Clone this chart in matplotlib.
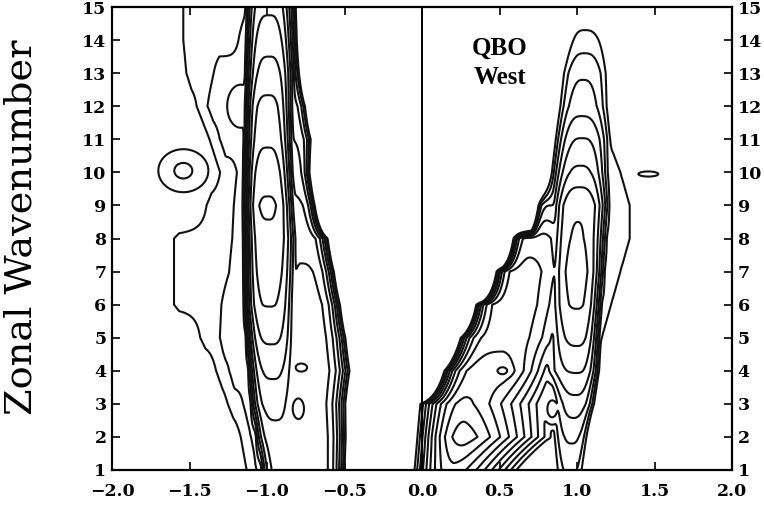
import numpy as np
import matplotlib
matplotlib.use("Agg")
import matplotlib.pyplot as plt

# ---------------- data (level units 1..12) ----------------
wavenumbers = np.arange(1, 16)
contour_levels = np.arange(1, 13)

# left-panel main ridge
ridgeA_center = [-0.90, -0.93, -0.95, -0.96, -0.97, -0.98, -0.98, -0.98, -0.99, -0.99, -0.99, -0.99, -0.98, -0.98, -0.98]
ridgeA_peak   = [7.3, 7.6, 8.4, 9.2, 10.2, 11.05, 11.5, 11.8, 12.15, 11.6, 10.8, 10.3, 9.4, 8.6, 7.8]
ridgeA_left   = [0.175, 0.18, 0.19, 0.19, 0.19, 0.19, 0.19, 0.19, 0.18, 0.18, 0.18, 0.18, 0.19, 0.19, 0.19]
ridgeA_right  = [0.22, 0.22, 0.21, 0.22, 0.22, 0.22, 0.22, 0.22, 0.21, 0.20, 0.20, 0.20, 0.20, 0.20, 0.20]

# left-panel shoulder (east side of the ridge)
shoulder_center = [-0.76, -0.77, -0.79, -0.78, -0.77, -0.76, -0.78, -0.80, -0.83, -0.86, -0.87, -0.88, -0.90, -0.90, -0.90]
shoulder_peak   = [7.8, 7.8, 7.8, 7.8, 7.6, 7.4, 7.1, 6.7, 6.2, 5.6, 5.0, 4.5, 4.0, 3.5, 3.0]
shoulder_right  = [0.30, 0.32, 0.34, 0.36, 0.32, 0.27, 0.25, 0.23, 0.17, 0.17, 0.20, 0.17, 0.15, 0.13, 0.12]

# left-panel low plateaus: west edge of level-1 and level-2 regions
plateau1_edge = [-1.10, -1.13, -1.25, -1.32, -1.43, -1.60, -1.60, -1.60, -1.39, -1.30, -1.34, -1.43, -1.52, -1.54, -1.54]
plateau2_edge = [-1.06, -1.10, -1.15, -1.24, -1.30, -1.29, -1.24, -1.22, -1.21, -1.19, -1.30, -1.38, -1.34, -1.18, -1.12]

# right-panel low-wavenumber block (wavenumbers 1-3)
block_center = [0.20, 0.27, 0.27]
block_peak   = [8.7, 10.6, 9.3]
block_left   = [0.31, 0.335, 0.337]
block_right  = [0.55, 0.65, 0.72]

# right-panel diagonal band (wavenumbers 4-9)
band_center = [0.52, 0.58, 0.62, 0.68, 0.75, 0.85]
band_peak   = [8.7, 7.5, 7.6, 7.4, 6.5, 4.0]
band_left   = [0.41, 0.373, 0.304, 0.226, 0.187, 0.13]
band_right  = [0.50, 0.55, 0.55, 0.50, 0.40, 0.20]
band_right_power = [1.5, 2, 2, 2, 2, 2]

# right-panel main ridge
ridgeR_center = [0.96, 0.97, 0.99, 1.00, 1.00, 1.00, 1.00, 1.00, 1.01, 1.02, 1.03, 1.03, 1.04, 1.05, 1.05]
ridgeR_peak   = [2.2, 3.2, 4.6, 6.1, 7.3, 8.1, 8.35, 8.07, 7.93, 6.24, 5.05, 3.55, 2.86, 1.43, 0.0]
ridgeR_left   = [0.18, 0.20, 0.22, 0.32, 0.26, 0.25, 0.24, 0.23, 0.23, 0.24, 0.24, 0.23, 0.23, 0.22, 0.22]
ridgeR_right  = [0.15, 0.16, 0.18, 0.19, 0.19, 0.20, 0.22, 0.24, 0.25, 0.25, 0.26, 0.27, 0.27, 0.27, 0.27]

# right-panel east shoulder (level-1 edge), wavenumbers 5-11
rshoulder_k    = [5, 6, 7, 8, 9, 10, 11]
rshoulder_edge = [1.16, 1.22, 1.28, 1.34, 1.34, 1.28, 1.20]

# isolated features: (x, wavenumber, peak, x-scale, k-scale)
islands_x    = [-1.54, -1.17, -0.78, -0.80, 0.52, 1.46, 0.84]
islands_k    = [10.05, 12.0, 4.1, 2.85, 4.0, 9.95, 2.85]
islands_peak = [2.15, 3.5, 8.3, 8.4, 9.2, 1.2, 3.4]
islands_sx   = [0.52, 0.40, 0.19, 0.17, 0.20, 0.50, 0.17]
islands_sk   = [2.1, 3.0, 0.6, 1.4, 0.7, 0.6, 1.4]

x_ticks = [-2.0, -1.5, -1.0, -0.5, 0.0, 0.5, 1.0, 1.5, 2.0]
x_ticklabels = ["\u22122.0", "\u22121.5", "\u22121.0", "\u22120.5", "0.0", "0.5", "1.0", "1.5", "2.0"]
y_ticks = list(range(1, 16))

# ---------------- field construction ----------------
T = 0.3
FLOOR = -40.0


def softmax(stack):
    stack = np.asarray(stack)
    m = stack.max(axis=0)
    return m + T * np.log(np.exp((stack - m) / T).sum(axis=0))


def peak(x, c, h, sl, sr, pl, pr):
    d = x - c
    left = h - 12 * (np.abs(d) / sl) ** pl
    right = h - 12 * (np.abs(d) / sr) ** pr
    return np.where(d < 0, left, right)


def plateau(x, lo, hi, h, slope_lo, slope_hi):
    return h - slope_lo * np.maximum(0, lo - x) - slope_hi * np.maximum(0, x - hi)


xg = np.linspace(-2.0, 2.0, 1001)
rows = []
for i, k in enumerate(wavenumbers):
    comps = [np.full_like(xg, FLOOR)]
    comps.append(peak(xg, ridgeA_center[i], ridgeA_peak[i], ridgeA_left[i], ridgeA_right[i], 4, 3))
    comps.append(peak(xg, shoulder_center[i], shoulder_peak[i], 0.35, shoulder_right[i], 2, 4))
    comps.append(plateau(xg, plateau1_edge[i] + 0.5 / 15, ridgeA_center[i], 1.5, 15, 60))
    comps.append(plateau(xg, plateau2_edge[i] + 0.5 / 15, ridgeA_center[i], 2.5, 15, 60))
    if k <= 3:
        j = k - 1
        comps.append(peak(xg, block_center[j], block_peak[j], block_left[j], block_right[j], 2, 1.5))
    if 4 <= k <= 9:
        j = k - 4
        comps.append(peak(xg, band_center[j], band_peak[j], band_left[j], band_right[j], 5,
                          band_right_power[j]))
    comps.append(peak(xg, ridgeR_center[i], ridgeR_peak[i], ridgeR_left[i], ridgeR_right[i], 3, 3))
    if k in rshoulder_k:
        j = rshoulder_k.index(k)
        comps.append(plateau(xg, ridgeR_center[i], rshoulder_edge[j] - 0.7 / 15, 1.7, 60, 15))
    comps = [np.maximum(c, FLOOR) for c in comps]
    rows.append(softmax(comps))
rows = np.array(rows)

kg = np.linspace(1, 15, 561)
pos = kg - 1
i0 = np.clip(np.floor(pos).astype(int), 0, 13)
fr = (pos - i0)[:, None]
G = rows[i0] * (1 - fr) + rows[i0 + 1] * fr

X, K = np.meshgrid(xg, kg)
stack = [G]
for cx, ck, h, sx, sk in zip(islands_x, islands_k, islands_peak, islands_sx, islands_sk):
    b = h - 12 * ((X - cx) / sx) ** 2 - 12 * ((K - ck) / sk) ** 2
    stack.append(np.maximum(b, FLOOR))
G = softmax(stack)

# ---------------- plotting ----------------
fig = plt.figure(figsize=(7.64, 5.12), dpi=100)
ax = fig.add_axes([112 / 764, 42 / 512, 620 / 764, 463 / 512])
ax.contour(xg, kg, G, levels=contour_levels, colors="#111111", linewidths=1.5)
ax.axvline(0, color="black", lw=1.4)
ax.set_xlim(-2, 2)
ax.set_ylim(1, 15)

ax.set_xticks(x_ticks)
ax.set_xticklabels(x_ticklabels)
ax.set_yticks(y_ticks)
ax.tick_params(direction="in", top=True, right=True, labelright=True, length=6, width=1.2,
               labelsize=12.5)
ax.tick_params(axis="x", pad=9)
ax.tick_params(axis="y", pad=4)
for lab in ax.get_xticklabels() + ax.get_yticklabels():
    lab.set_family("DejaVu Serif")
    lab.set_weight("bold")
for s in ax.spines.values():
    s.set_linewidth(1.6)

ax.text(0.50, 13.76, "QBO", family="Liberation Serif", weight="bold", fontsize=18,
        ha="center", va="center")
ax.text(0.50, 12.88, "West", family="Liberation Serif", weight="bold", fontsize=18,
        ha="center", va="center")

t = fig.text(22 / 764, 0.556, "Zonal Wavenumber", family="DejaVu Serif",
             fontsize=20, rotation=90, ha="center", va="center")
fig.canvas.draw()
bb = t.get_window_extent(fig.canvas.get_renderer())
t.set_fontsize(20 * 375 / bb.height)

fig.savefig("out.png", dpi=100)
